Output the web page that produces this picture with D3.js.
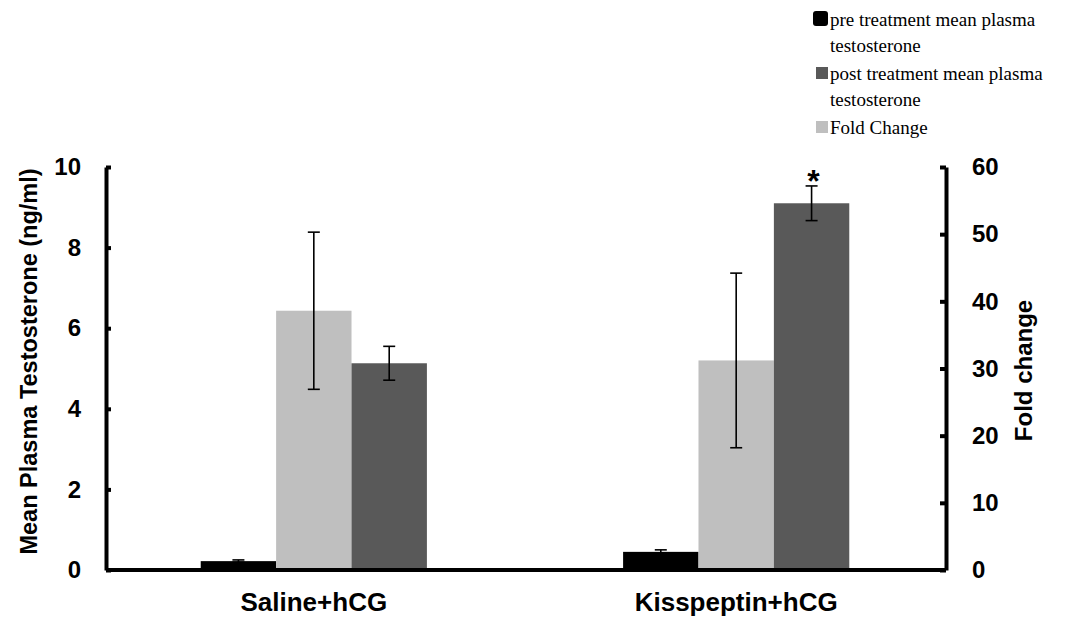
<!DOCTYPE html>
<html>
<head>
<meta charset="utf-8">
<script src="https://cdn.jsdelivr.net/npm/d3@7"></script>
<style>
  body { margin: 0; background: #fff; }
  svg { display: block; }
</style>
</head>
<body>
<div id="chart"></div>
<script>
// data
const groups = ["Saline+hCG", "Kisspeptin+hCG"];
const preMean = [0.22, 0.45];
const preErr = [0.03, 0.05];
const foldMean = [38.6, 31.2];
const foldErr = [11.7, 13.0];
const postMean = [5.13, 9.1];
const postErr = [0.42, 0.43];
const leftTicks = [0, 2, 4, 6, 8, 10];
const rightTicks = [0, 10, 20, 30, 40, 50, 60];
const legendLabels = [
    ["pre treatment mean plasma", "testosterone"],
    ["post treatment mean plasma", "testosterone"],
    ["Fold Change"]
];

const width = 1075, height = 618;
const margin = { top: 167, right: 129, bottom: 48, left: 106 };
const sans = "Liberation Sans, Arial, sans-serif";

const svg = d3.select("#chart").append("svg")
    .attr("width", width)
    .attr("height", height);

const x = d3.scaleBand(groups, [104, width - margin.right]).paddingInner(0.4645).paddingOuter(0.229);
const sub = d3.scaleBand(["pre", "fold", "post"], [0, x.bandwidth()]);
const yL = d3.scaleLinear([0, 10], [height - margin.bottom, margin.top]);
const yR = d3.scaleLinear([0, 60], [height - margin.bottom, margin.top]);

// bars: pre and post on left axis, fold change on right axis
const series = [
    { key: "pre", mean: preMean, err: preErr, y: yL, color: "#000000" },
    { key: "fold", mean: foldMean, err: foldErr, y: yR, color: "#bfbfbf" },
    { key: "post", mean: postMean, err: postErr, y: yL, color: "#595959" }
];

series.forEach(s => {
    const g = svg.append("g");
    g.selectAll("rect")
        .data(groups)
        .join("rect")
        .attr("x", (d, i) => x(d) + sub(s.key))
        .attr("y", (d, i) => s.y(s.mean[i]))
        .attr("width", sub.bandwidth())
        .attr("height", (d, i) => s.y(0) - s.y(s.mean[i]))
        .attr("fill", s.color);

    const eb = g.selectAll("g.err")
        .data(groups)
        .join("g")
        .attr("class", "err")
        .attr("stroke", "#000")
        .attr("stroke-width", 1.6);
    const cx = d => x(d) + sub(s.key) + sub.bandwidth() / 2;
    eb.append("line")
        .attr("x1", cx).attr("x2", cx)
        .attr("y1", (d, i) => s.y(s.mean[i] + s.err[i]))
        .attr("y2", (d, i) => s.y(s.mean[i] - s.err[i]));
    eb.append("line")
        .attr("x1", d => cx(d) - 6).attr("x2", d => cx(d) + 6)
        .attr("y1", (d, i) => s.y(s.mean[i] + s.err[i]))
        .attr("y2", (d, i) => s.y(s.mean[i] + s.err[i]));
    eb.append("line")
        .attr("x1", d => cx(d) - 6).attr("x2", d => cx(d) + 6)
        .attr("y1", (d, i) => s.y(s.mean[i] - s.err[i]))
        .attr("y2", (d, i) => s.y(s.mean[i] - s.err[i]));
});

// asterisk over kisspeptin post bar
svg.append("text")
    .attr("x", x(groups[1]) + sub("post") + sub.bandwidth() / 2 + 2)
    .attr("y", yL(postMean[1] + postErr[1]) + 6)
    .attr("text-anchor", "middle")
    .attr("font-family", sans)
    .attr("font-weight", "bold")
    .attr("font-size", 32)
    .text("*");

// axes
const axisFont = g => g.selectAll("text")
    .attr("font-family", sans)
    .attr("font-weight", "bold")
    .attr("font-size", 24)
    .attr("fill", "#000");

svg.append("g")
    .attr("transform", `translate(${margin.left},0)`)
    .call(d3.axisLeft(yL).tickValues(leftTicks).tickSize(-5).tickSizeOuter(0).tickPadding(25))
    .call(g => g.selectAll("line, path").attr("stroke", "#000").attr("stroke-width", 4))
    .call(axisFont);

svg.append("g")
    .attr("transform", `translate(${width - margin.right},0)`)
    .call(d3.axisRight(yR).tickValues(rightTicks).tickSize(-6).tickSizeOuter(0).tickPadding(26))
    .call(g => g.selectAll("line, path").attr("stroke", "#000").attr("stroke-width", 4))
    .call(axisFont);

svg.append("g")
    .attr("transform", `translate(0,${height - margin.bottom})`)
    .call(d3.axisBottom(x).tickSize(0).tickSizeOuter(0).tickPadding(23))
    .call(g => g.select(".domain").attr("d", `M${margin.left},0H${width - margin.right}`)
        .attr("stroke", "#000").attr("stroke-width", 4))
    .call(g => g.selectAll("text")
        .attr("font-family", sans)
        .attr("font-weight", "bold")
        .attr("font-size", 26)
        .attr("fill", "#000"));

// axis titles
svg.append("text")
    .attr("transform", `translate(37,${(yL(0) + yL(10)) / 2 - 7}) rotate(-90)`)
    .attr("text-anchor", "middle")
    .attr("font-family", sans)
    .attr("font-weight", "bold")
    .attr("font-size", 23.5)
    .text("Mean Plasma Testosterone (ng/ml)");

svg.append("text")
    .attr("transform", `translate(1032,${(yR(0) + yR(60)) / 2 + 2}) rotate(-90)`)
    .attr("text-anchor", "middle")
    .attr("font-family", sans)
    .attr("font-weight", "bold")
    .attr("font-size", 24)
    .text("Fold change");

// legend
const legendColors = ["#000000", "#595959", "#bfbfbf"];
const legendY = [19, 73, 127];
const legend = svg.append("g").attr("font-family", "Liberation Serif, Times New Roman, serif").attr("font-size", 19);
legendLabels.forEach((lines, i) => {
    legend.append("rect")
        .attr("x", i === 0 ? 813 : 816)
        .attr("y", legendY[i] - (i === 0 ? 8 : 6))
        .attr("width", i === 0 ? 15 : 12)
        .attr("height", i === 0 ? 15 : 12)
        .attr("rx", i === 0 ? 3 : 0)
        .attr("fill", legendColors[i]);
    lines.forEach((t, j) => {
        legend.append("text")
            .attr("x", 830)
            .attr("y", legendY[i] + j * 26)
            .attr("dy", "0.35em")
            .attr("fill", "#000")
            .text(t);
    });
});
</script>
</body>
</html>
